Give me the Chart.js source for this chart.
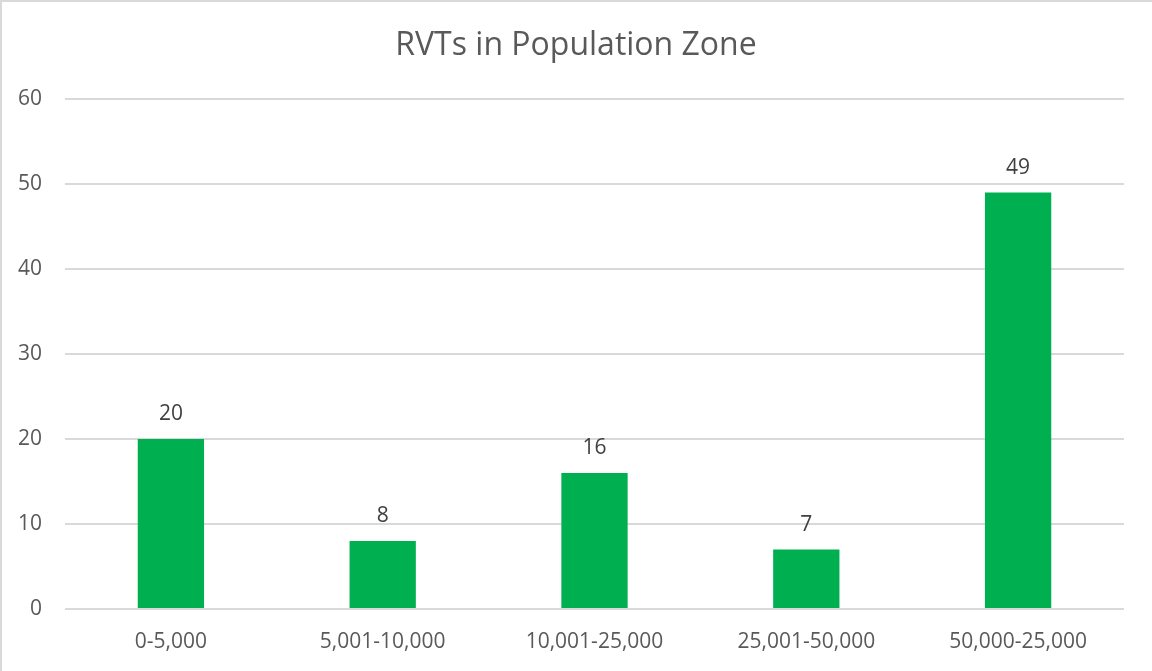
<!DOCTYPE html>
<html>
<head>
<meta charset="utf-8">
<script src="https://cdn.jsdelivr.net/npm/chart.js@4.4.1/dist/chart.umd.min.js"></script>
<style>
html,body{margin:0;padding:0;background:#fff;}
#wrap{position:relative;width:1152px;height:671px;}
#chart{position:absolute;left:0;top:0;}
#frame{position:absolute;left:0;top:0;width:1152px;height:671px;box-sizing:border-box;border:2px solid #d9d9d9;border-right:none;border-bottom:none;pointer-events:none;}
</style>
</head>
<body>
<div id="wrap"><canvas id="chart" width="1152" height="671"></canvas><div id="frame"></div></div>
<script>
'use strict';
const categories=['0-5,000','5,001-10,000','10,001-25,000','25,001-50,000','50,000-25,000'];
const counts=[20,8,16,7,49];
const yTicks=[0,10,20,30,40,50,60];
const titleText='RVTs in Population Zone';

const FONT='"Open Sans", "Noto Sans", sans-serif';
const TEXT='#595959';

// value labels above each bar
const barLabels={
  id:'barLabels',
  afterDatasetsDraw(chart){
    const ctx=chart.ctx;
    const meta=chart.getDatasetMeta(0);
    ctx.save();
    ctx.font='21px '+FONT;
    ctx.fillStyle='#404040';
    ctx.textAlign='center';
    ctx.textBaseline='alphabetic';
    meta.data.forEach((bar,i)=>{
      ctx.fillText(String(counts[i]),bar.x,bar.y-19);
    });
    ctx.restore();
  }
};

// centre the title on the whole canvas, not on the padded box
const titleFullWidth={
  id:'titleFullWidth',
  afterLayout(chart){
    const t=chart.titleBlock;
    if(!t)return;
    t.left=0;
    t.right=chart.width;
    t.width=chart.width;
  }
};

new Chart(document.getElementById('chart'),{
  type:'bar',
  data:{labels:categories,datasets:[{
    data:counts,
    backgroundColor:'#00b050',
    borderWidth:0,
    categoryPercentage:1,
    barPercentage:0.313
  }]},
  options:{
    responsive:false,
    animation:false,
    devicePixelRatio:1,
    layout:{padding:{left:0,right:28,top:0,bottom:0}},
    plugins:{
      legend:{display:false},
      tooltip:{enabled:false},
      title:{display:true,text:titleText,color:TEXT,font:{family:FONT,size:32,weight:'normal'},padding:{top:26.3,bottom:34.3}}
    },
    scales:{
      x:{
        grid:{display:false,drawTicks:false},
        border:{display:false},
        ticks:{color:TEXT,font:{family:FONT,size:21},padding:20,maxRotation:0,autoSkip:false},
        afterFit:s=>{s.height=62;}
      },
      y:{
        min:0,max:60,
        afterBuildTicks:s=>{s.ticks=yTicks.map(v=>({value:v}));},
        grid:{color:'#d9d9d9',lineWidth:2,drawTicks:false},
        border:{display:false},
        ticks:{color:TEXT,font:{family:FONT,size:21},padding:23},
        afterFit:s=>{s.width=65;}
      }
    }
  },
  plugins:[barLabels,titleFullWidth]
});
</script>
</body>
</html>
